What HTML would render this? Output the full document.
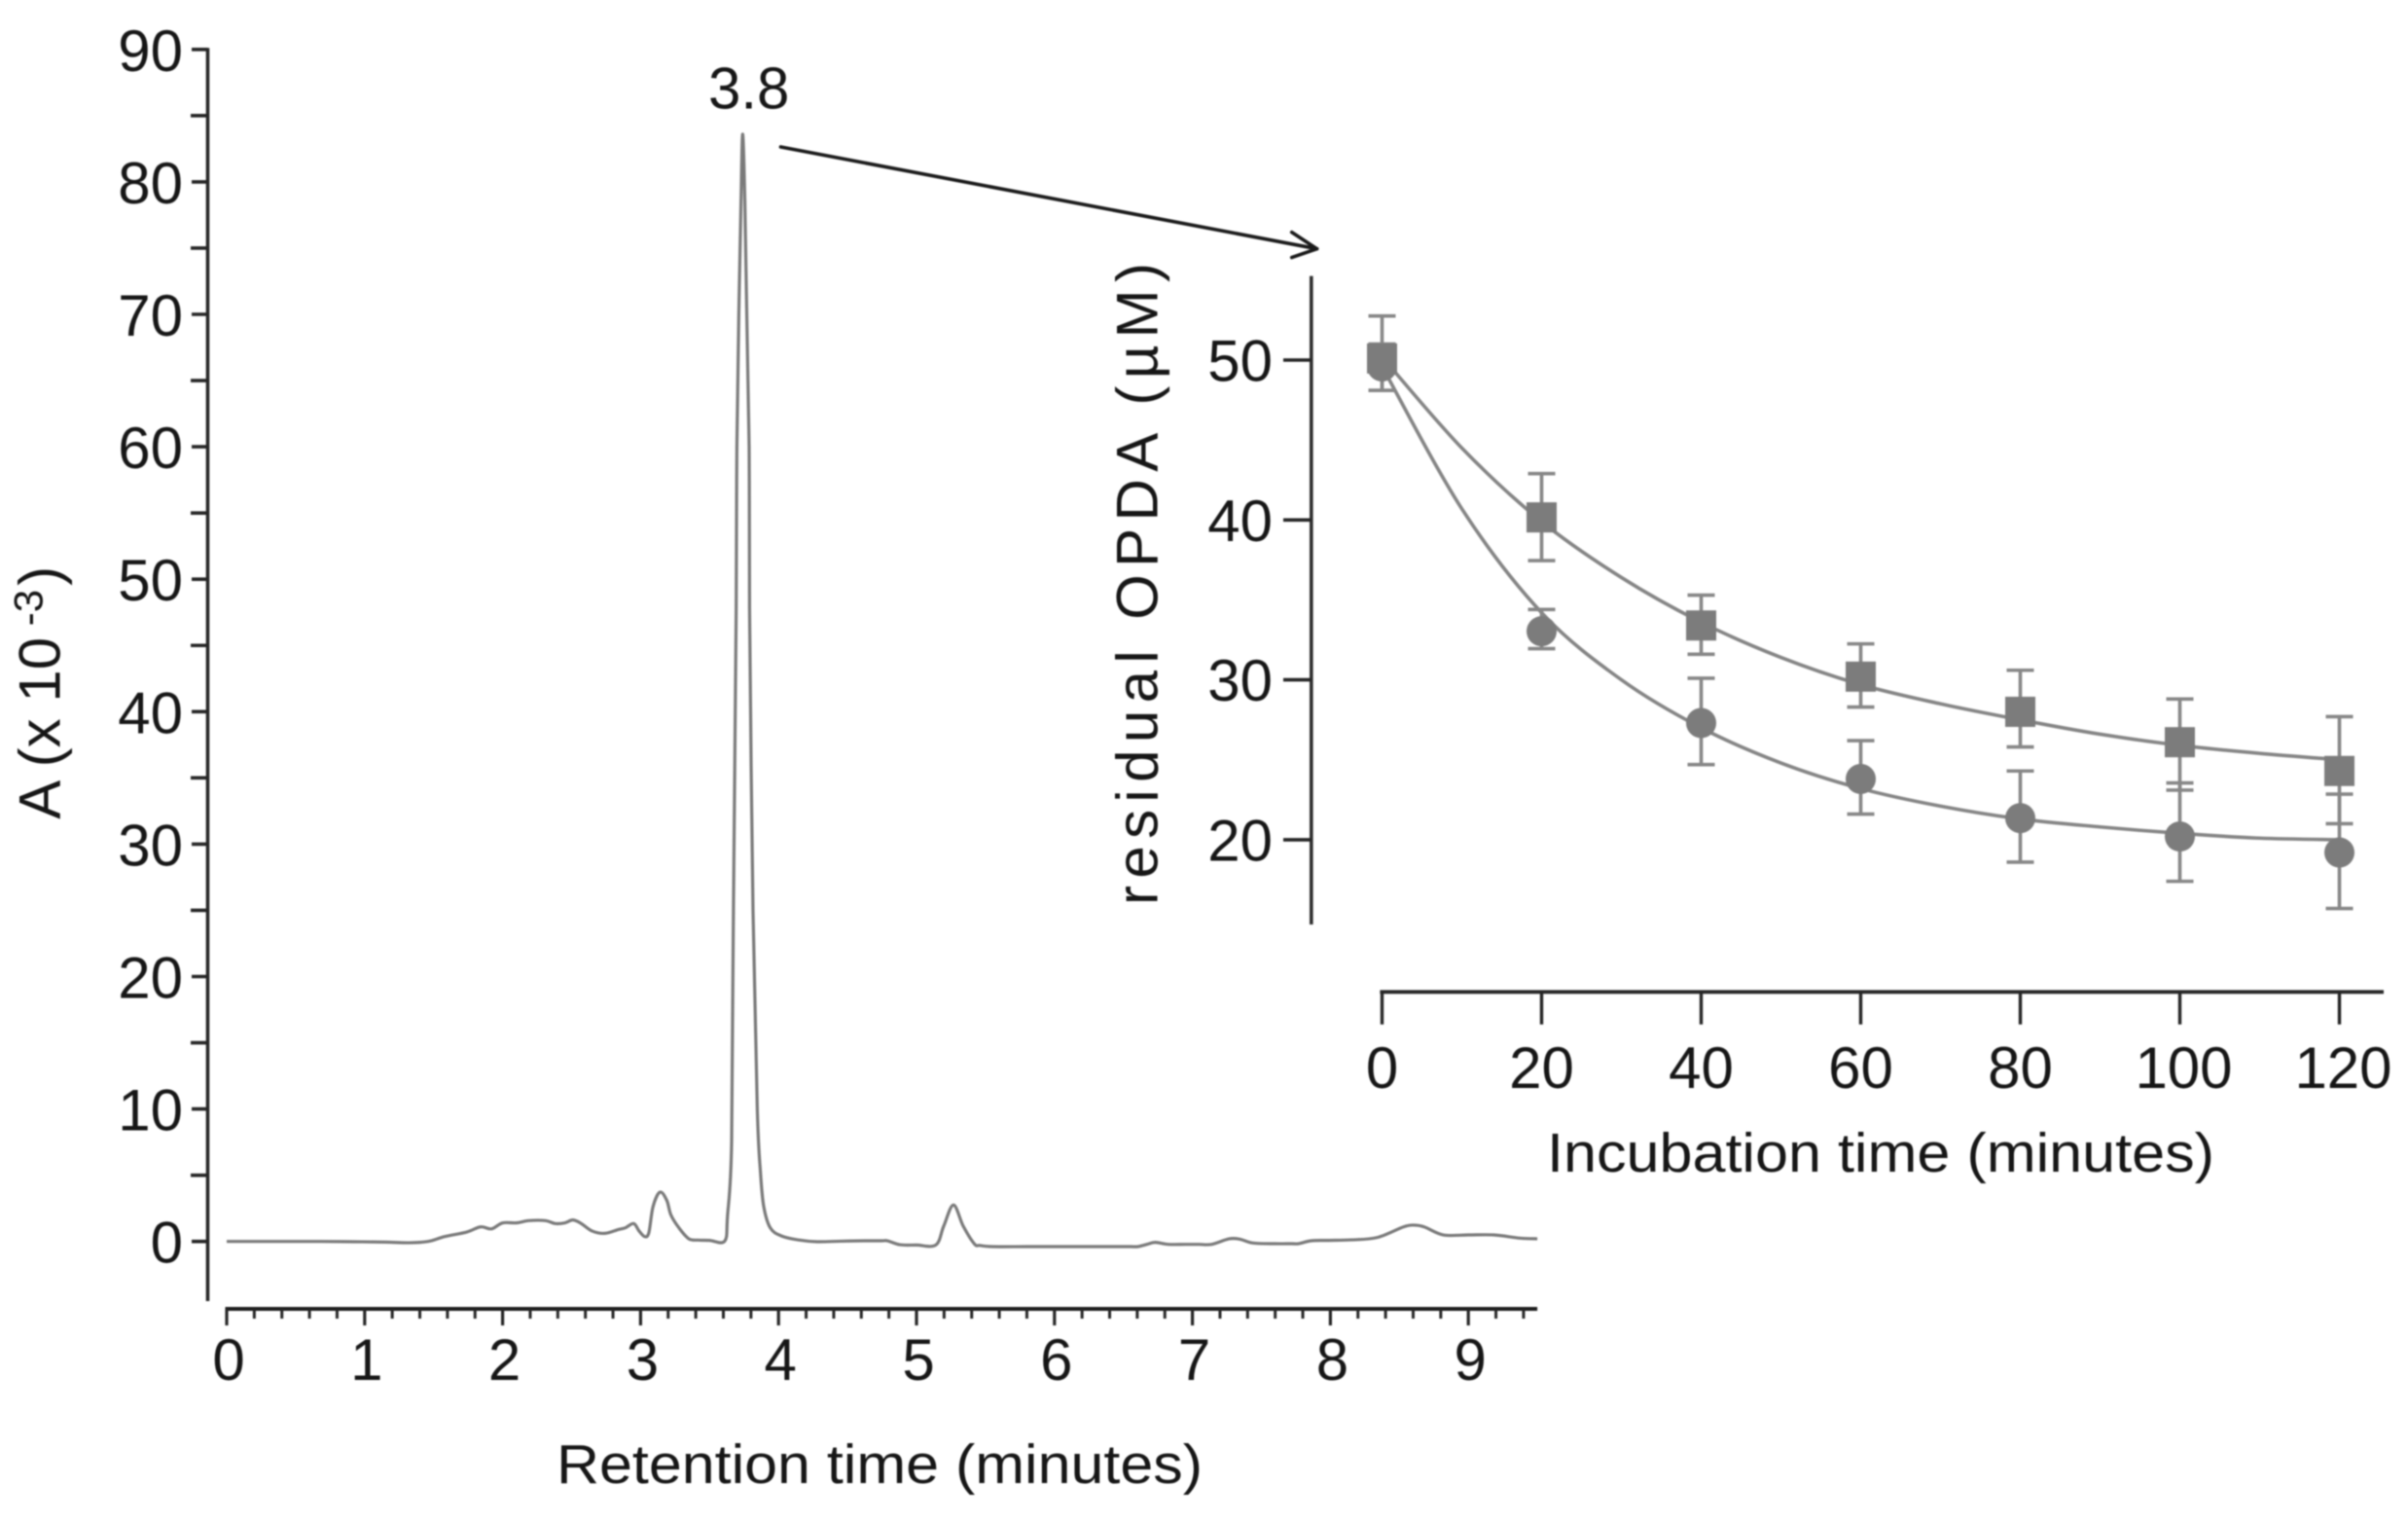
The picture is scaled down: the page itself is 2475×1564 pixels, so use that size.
<!DOCTYPE html>
<html lang="en">
<head>
<meta charset="utf-8">
<title>OPDA retention chromatogram and residual OPDA time course</title>
<style>
html,body{margin:0;padding:0;background:#fff;width:2475px;height:1564px;overflow:hidden}
svg{display:block;filter:blur(0.9px)}
text{font-family:"Liberation Sans",Arial,sans-serif;fill:#161616}
</style>
</head>
<body>
<svg id="figure" xmlns="http://www.w3.org/2000/svg" width="2475" height="1564" viewBox="0 0 2475 1564">
  <rect x="0" y="0" width="2475" height="1564" fill="#ffffff"/>
  <g id="left-chart"></g>
  <g id="right-chart"></g>

  <text x="572" y="1524" font-size="57" textLength="664" lengthAdjust="spacingAndGlyphs">Retention time (minutes)</text>
  <text transform="translate(61.7 841.7) rotate(-90)" font-size="60">A (x 10<tspan font-size="42" dx="11.7" dy="-18">-3</tspan><tspan dx="4" dy="18">)</tspan></text>
  <text x="728" y="111.5" font-size="60">3.8</text>

  <g fill="none" stroke="#1a1a1a" stroke-width="3.6" stroke-linecap="round" stroke-linejoin="round">
    <line x1="802.5" y1="151" x2="1353.6" y2="255.7"/>
    <polyline points="1327.7,238.6 1353.6,255.7 1327.7,264.6"/>
  </g>

  <text transform="translate(1189.3 930) rotate(-90)" font-size="60" textLength="660" lengthAdjust="spacing">residual OPDA (µM)</text>
  <text x="1590" y="1204" font-size="57" textLength="686" lengthAdjust="spacingAndGlyphs">Incubation time (minutes)</text>
</svg>

<script>
// ---- Chromatogram data ----
const traceTimes = [0,0.34,0.68,0.92,1.15,1.32,1.46,1.58,1.74,1.84,1.92,2.0,2.10,2.19,2.31,2.38,2.45,2.51,2.57,2.65,2.74,2.84,2.89,2.95,2.99,3.03,3.06,3.09,3.14,3.19,3.22,3.28,3.35,3.42,3.5,3.61,3.63,3.66,3.673,3.693,3.698,3.712,3.728,3.74,3.756,3.77,3.787,3.79,3.815,3.846,3.87,3.893,3.94,4.02,4.14,4.28,4.45,4.62,4.75,4.79,4.88,5.0,5.14,5.197,5.268,5.339,5.42,5.46,5.55,5.8,6.1,6.4,6.55,6.605,6.67,6.73,6.825,6.95,7.05,7.14,7.267,7.345,7.44,7.6,7.72,7.77,7.86,7.98,8.15,8.34,8.53,8.605,8.68,8.82,9.0,9.185,9.375,9.5];
const traceValues = [0,0,0,-0.02,-0.05,-0.1,0,0.37,0.71,1.1,0.95,1.4,1.4,1.57,1.57,1.35,1.4,1.62,1.35,0.78,0.61,0.9,1.03,1.35,0.78,0.37,0.66,2.62,3.72,3.1,2.0,1.0,0.2,0.1,0.08,0.03,1.9,7.5,25,47.8,60,69.9,78.5,83.6,78.5,69.9,60,47.8,25,10,5.07,2.62,1.03,0.42,0.12,-0.02,0.02,0.05,0.05,0.05,-0.25,-0.27,-0.27,1.15,2.75,1.15,-0.19,-0.3,-0.39,-0.39,-0.39,-0.39,-0.39,-0.39,-0.22,-0.07,-0.22,-0.22,-0.22,-0.22,0.2,0.17,-0.12,-0.17,-0.17,-0.17,0.05,0.08,0.12,0.3,1.1,1.23,1.1,0.49,0.49,0.49,0.25,0.2];
const leftYTicks = [0,10,20,30,40,50,60,70,80,90];
const leftYMinorTicks = [5,15,25,35,45,55,65,75,85];
const leftXTicks = [0,1,2,3,4,5,6,7,8,9];
const leftXMinorTicks = [0.2,0.4,0.6,0.8,1.2,1.4,1.6,1.8,2.2,2.4,2.6,2.8,3.2,3.4,3.6,3.8,4.2,4.4,4.6,4.8,5.2,5.4,5.6,5.8,6.2,6.4,6.6,6.8,7.2,7.4,7.6,7.8,8.2,8.4,8.6,8.8,9.2,9.4];

// ---- Residual OPDA data ----
const incubationTimes = [0,20,40,60,80,100,120];
const squareMeans = [50.1,40.16,33.4,30.2,28.0,26.1,24.3];
const squareUpper = [52.76,42.9,35.3,32.25,30.6,28.8,27.7];
const squareLower = [48.1,37.46,31.6,28.3,25.8,23.1,21.0];
const circleMeans = [49.6,33.04,27.3,23.8,21.35,20.2,19.2];
const circleUpper = [51.0,34.4,30.1,26.2,24.3,23.55,22.85];
const circleLower = [48.1,31.95,24.7,21.6,18.6,17.4,15.7];
const fitTimes = [0,10,20,30,40,50,60,70,80,90,100,110,120];
const squareFit = [50.2,44.5,39.9,36.4,33.6,31.4,29.7,28.5,27.5,26.6,25.9,25.4,25.0];
const circleFit = [49.6,40.7,34.2,30.0,27.0,24.8,23.2,22.1,21.3,20.8,20.4,20.1,20.0];
const rightYTicks = [20,30,40,50];
const rightXTicks = [0,20,40,60,80,100,120];

const NS = 'http://www.w3.org/2000/svg';
function mk(tag, attrs, parent, txt) {
  const e = document.createElementNS(NS, tag);
  for (const k in attrs) e.setAttribute(k, attrs[k]);
  if (txt !== undefined) e.textContent = txt;
  parent.appendChild(e);
  return e;
}
function smoothPath(pts) {
  let d = 'M' + pts[0][0].toFixed(2) + ' ' + pts[0][1].toFixed(2);
  for (let i = 0; i < pts.length - 1; i++) {
    const p0 = pts[Math.max(i - 1, 0)], p1 = pts[i], p2 = pts[i + 1], p3 = pts[Math.min(i + 2, pts.length - 1)];
    d += ' C' + (p1[0] + (p2[0] - p0[0]) / 6).toFixed(2) + ' ' + (p1[1] + (p2[1] - p0[1]) / 6).toFixed(2) +
         ' ' + (p2[0] - (p3[0] - p1[0]) / 6).toFixed(2) + ' ' + (p2[1] - (p3[1] - p1[1]) / 6).toFixed(2) +
         ' ' + p2[0].toFixed(2) + ' ' + p2[1].toFixed(2);
  }
  return d;
}

// ---- Axis functions ----
const lx = t => 233 + 141.8 * t;
const ly = v => 1275.7 - 13.61 * v;
const rx = t => 1420.5 + 8.2 * t;
const ry = v => 370 + (50 - v) * 16.43;

const AXIS = '#262626';
const left = document.getElementById('left-chart');
const right = document.getElementById('right-chart');

// ---- Left chart ----
const lYAxis = mk('line', {x1:213.5, y1:ly(90)-1.5, x2:213.5, y2:1337, stroke:AXIS, 'stroke-width':3.6}, left);



leftYTicks.forEach(v => {
  const tick = mk('line', {x1:197, y1:ly(v), x2:213.5, y2:ly(v), stroke:AXIS, 'stroke-width':3.6}, left);
  
  
  const label = mk('text', {x:188, y:ly(v)+22, 'font-size':60, 'text-anchor':'end'}, left, String(v));
  
  
});
leftYMinorTicks.forEach(v => {
  const tick = mk('line', {x1:196, y1:ly(v), x2:213.5, y2:ly(v), stroke:AXIS, 'stroke-width':3.6}, left);
  
  
});

const lXAxis = mk('line', {x1:lx(0)-1.5, y1:1345, x2:lx(9.5), y2:1345, stroke:'#1e1e1e', 'stroke-width':4}, left);



leftXTicks.forEach(t => {
  const tick = mk('line', {x1:lx(t), y1:1345, x2:lx(t), y2:1362, stroke:AXIS, 'stroke-width':3.2}, left);
  
  
  const label = mk('text', {x:lx(t)+2, y:1418, 'font-size':60, 'text-anchor':'middle'}, left, String(t));
  
  
});
leftXMinorTicks.forEach(t => {
  const tick = mk('line', {x1:lx(t), y1:1345, x2:lx(t), y2:1355, stroke:AXIS, 'stroke-width':3}, left);
  
  
});

const trace = mk('path', {d:smoothPath(traceTimes.map((t, i) => [lx(t), ly(traceValues[i])])), fill:'none', stroke:'#7a7a7a', 'stroke-width':3.2, 'stroke-linejoin':'round'}, left);



// ---- Right chart ----
const rYAxis = mk('line', {x1:1347.8, y1:283.6, x2:1347.8, y2:950, stroke:'#2e2e2e', 'stroke-width':3.6}, right);



rightYTicks.forEach(v => {
  const tick = mk('line', {x1:1319, y1:ry(v), x2:1347.8, y2:ry(v), stroke:AXIS, 'stroke-width':3.6}, right);
  
  
  const label = mk('text', {x:1308, y:ry(v)+21.5, 'font-size':60, 'text-anchor':'end'}, right, String(v));
  
  
});

const rXAxis = mk('line', {x1:1418.4, y1:1019.3, x2:2450, y2:1019.3, stroke:'#262626', 'stroke-width':3.8}, right);



rightXTicks.forEach(t => {
  const tick = mk('line', {x1:rx(t), y1:1019.3, x2:rx(t), y2:1052.7, stroke:AXIS, 'stroke-width':3.4}, right);
  
  
  const label = mk('text', {x:rx(t)+(t >= 100 ? 4 : 0), y:1118, 'font-size':60, 'text-anchor':'middle'}, right, String(t));
  
  
});

// Fit curves
const squareCurve = mk('path', {d:smoothPath(fitTimes.map((t, i) => [rx(t), ry(squareFit[i])])), fill:'none', stroke:'#858585', 'stroke-width':3.6}, right);


const circleCurve = mk('path', {d:smoothPath(fitTimes.map((t, i) => [rx(t), ry(circleFit[i])])), fill:'none', stroke:'#858585', 'stroke-width':3.6}, right);



// Error bars
function drawError(t, hi, lo, name) {
  const g = mk('g', {stroke:'#878787', 'stroke-width':3.6, fill:'none'}, right);
  
  
  const x = rx(t);
  mk('line', {x1:x, y1:ry(hi), x2:x, y2:ry(lo)}, g);
  mk('line', {x1:x-14, y1:ry(hi), x2:x+14, y2:ry(hi)}, g);
  mk('line', {x1:x-14, y1:ry(lo), x2:x+14, y2:ry(lo)}, g);
}
incubationTimes.forEach((t, i) => {
  drawError(t, circleUpper[i], circleLower[i], 'circle-series-error-bar');
  drawError(t, squareUpper[i], squareLower[i], 'square-series-error-bar');
});

// Markers
incubationTimes.forEach((t, i) => {
  const c = mk('circle', {cx:rx(t), cy:ry(circleMeans[i]), r:15.5, fill:'#7c7c7c'}, right);
  
  
});
incubationTimes.forEach((t, i) => {
  const s = mk('rect', {x:rx(t)-15.5, y:ry(squareMeans[i])-15.5, width:31, height:31, fill:'#7c7c7c'}, right);
  
  
});
</script>
</body>
</html>
